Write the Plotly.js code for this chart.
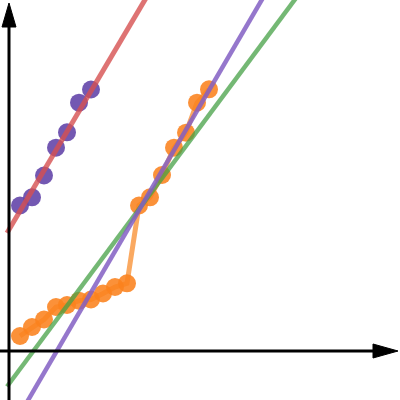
<!DOCTYPE html>
<html>
<head>
<meta charset="utf-8">
<script src="https://cdn.plot.ly/plotly-3.0.1.min.js"></script>
<style>html,body{margin:0;padding:0;background:#fff;}#chart{width:400px;height:400px;}</style>
</head>
<body>
<div id="chart"></div>
<script>
// Group A (purple points)
const purpleX = [11, 23, 35, 47, 58, 70, 82];
const purpleY = [145.5, 153.7, 175.5, 203.3, 218.7, 248.3, 261.5];
// Combined series (orange, connected)
const orangeX = [11, 23, 35, 47, 58, 70, 82, 94, 106, 118, 130, 141, 153, 165, 177, 188, 200];
const orangeY = [15, 24, 31.5, 44, 46, 50.3, 51.5, 57.5, 64, 67.7, 145.5, 153.7, 176, 203.3, 218.3, 248.3, 261.7];
// Fitted lines: red (group A), green (group B), purple (combined)
const lineNames = ["fitA", "fitB", "fitAll"];
const lineSlopes = [1.69, 1.344, 1.713];
const lineIntercepts = [121.4, -32.8, -81.9];
const lineColors = ["rgba(214,80,80,0.8)", "rgba(70,160,70,0.75)", "rgba(130,95,195,0.85)"];
const lineWidths = [5, 4.5, 4.5];
const lineXStart = -2, lineXEnd = 320;

const traces = [];
traces.push({
  x: orangeX, y: orangeY, mode: 'lines+markers', type: 'scatter',
  line: {color: 'rgba(250,160,80,0.9)', width: 5},
  marker: {color: 'rgba(250,130,30,0.88)', size: 18},
  hoverinfo: 'skip'
});
traces.push({
  x: purpleX, y: purpleY, mode: 'markers', type: 'scatter',
  marker: {color: 'rgba(100,70,170,0.9)', size: 18},
  hoverinfo: 'skip'
});
for (let i = 0; i < lineNames.length; i++) {
  traces.push({
    x: [lineXStart, lineXEnd],
    y: [lineIntercepts[i] + lineSlopes[i] * lineXStart, lineIntercepts[i] + lineSlopes[i] * lineXEnd],
    mode: 'lines', type: 'scatter', name: lineNames[i],
    line: {color: lineColors[i], width: lineWidths[i]},
    hoverinfo: 'skip'
  });
}

const layout = {
  width: 400, height: 400,
  margin: {l: 0, r: 0, t: 0, b: 0},
  paper_bgcolor: '#fff', plot_bgcolor: '#fff',
  showlegend: false,
  xaxis: {range: [-9, 391], visible: false, fixedrange: true},
  yaxis: {range: [-49, 351], visible: false, fixedrange: true},
  shapes: [
    {type: 'line', xref: 'x', yref: 'y', x0: 0, x1: 0, y0: -49, y1: 326, line: {color: '#000', width: 3}, layer: 'above'},
    {type: 'path', xref: 'x', yref: 'y', path: 'M -7 324 L 0 348 L 7 324 Z', fillcolor: '#000', line: {color: '#000', width: 1}, layer: 'above'},
    {type: 'line', xref: 'x', yref: 'y', x0: -9, x1: 366, y0: 0, y1: 0, line: {color: '#000', width: 3}, layer: 'above'},
    {type: 'path', xref: 'x', yref: 'y', path: 'M 364 7 L 389 0 L 364 -7 Z', fillcolor: '#000', line: {color: '#000', width: 1}, layer: 'above'}
  ]
};
Plotly.newPlot('chart', traces, layout, {staticPlot: true, displayModeBar: false});
</script>
</body>
</html>
